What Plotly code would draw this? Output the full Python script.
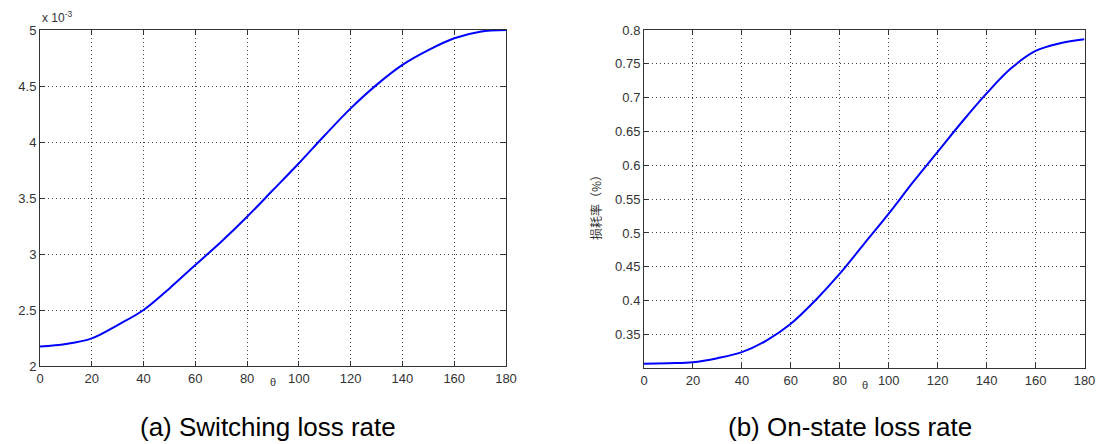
import plotly.graph_objects as go

theta = [0, 10, 20, 30, 40, 50, 60, 70, 80, 90, 100, 110, 120, 130, 140, 150, 160, 170, 180]
# switching loss rate, in units of 1e-3
switching_loss_e3 = [2.173, 2.196, 2.247, 2.366, 2.50, 2.693, 2.902, 3.11, 3.333, 3.571,
                     3.81, 4.06, 4.30, 4.51, 4.688, 4.82, 4.926, 4.985, 5.0]
# on-state loss rate (%)
onstate_loss = [0.3066, 0.3076, 0.309, 0.315, 0.3239, 0.341, 0.3658, 0.4003, 0.4398, 0.4842,
                0.5286, 0.5755, 0.62, 0.6644, 0.7063, 0.7433, 0.769, 0.7803, 0.7862]

x_ticks = [0, 20, 40, 60, 80, 100, 120, 140, 160, 180]
left_yticks = [2, 2.5, 3, 3.5, 4, 4.5, 5]
right_yticks = [0.35, 0.4, 0.45, 0.5, 0.55, 0.6, 0.65, 0.7, 0.75, 0.8]

W, H = 1096, 444
FONT = "Liberation Sans, Arial, sans-serif"
TICKCOL = "#333333"

def px(x):
    return x / W

def py(y):
    return 1 - y / H

fig = go.Figure()
fig.add_trace(go.Scatter(x=theta, y=switching_loss_e3, mode="lines",
                         line=dict(color="#0000ff", width=2, shape="spline"),
                         xaxis="x", yaxis="y", showlegend=False))
fig.add_trace(go.Scatter(x=theta, y=onstate_loss, mode="lines",
                         line=dict(color="#0000ff", width=2, shape="spline"),
                         xaxis="x2", yaxis="y2", showlegend=False))

def ax_common():
    return dict(showline=True, linecolor="#333333", linewidth=1, mirror="ticks",
                ticks="inside", ticklen=5, tickcolor="#333333", automargin=False,
                ticklabeloverflow="allow",
                showgrid=True, gridcolor="#444444", griddash="1px,3px", gridwidth=1,
                zeroline=False, tickfont=dict(family=FONT, size=13, color=TICKCOL))

fig.update_layout(
    width=W, height=H, margin=dict(l=0, r=0, t=0, b=0, autoexpand=False),
    paper_bgcolor="white", plot_bgcolor="white",
    xaxis=dict(domain=[px(40), px(506)], range=[0, 180], tickvals=x_ticks, anchor="y", **ax_common()),
    yaxis=dict(domain=[py(366), py(30)], range=[2, 5], tickvals=left_yticks, anchor="x", **ax_common()),
    xaxis2=dict(domain=[px(644), px(1084.5)], range=[0, 180], tickvals=x_ticks, anchor="y2", **ax_common()),
    yaxis2=dict(domain=[py(368.3), py(30)], range=[0.3, 0.8], tickvals=right_yticks, anchor="x2", **ax_common()),
)

annos = [
    dict(x=px(273), y=py(382), text="θ", font=dict(size=11)),
    dict(x=px(865), y=py(385), text="θ", font=dict(size=11)),
    dict(x=px(40), y=py(17), text="x 10<sup>-3</sup>", font=dict(size=12), xanchor="left"),
    dict(x=px(595), y=py(205), text="损耗率（%）", textangle=-90,
         font=dict(size=12, family="Noto Sans CJK SC, sans-serif")),
    dict(x=px(268), y=py(427), text="(a) Switching loss rate", font=dict(size=26, color="black")),
    dict(x=px(850), y=py(427), text="(b) On-state loss rate", font=dict(size=26, color="black")),
]
for a in annos:
    a.setdefault("xanchor", "center")
    f = a["font"]
    f.setdefault("family", FONT)
    f.setdefault("color", TICKCOL)
    fig.add_annotation(xref="paper", yref="paper", yanchor="middle", showarrow=False, **a)

# remove the default 8px page margin so the figure fills the window exactly
fig.write_html("out.html", config={"displayModeBar": False},
               post_script="document.body.style.margin='0';document.body.style.overflow='hidden';")
